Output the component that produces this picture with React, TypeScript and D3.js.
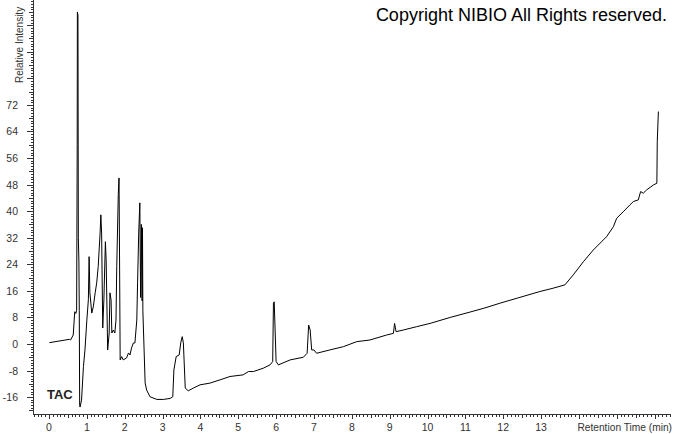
import React, { useMemo } from 'react';
import * as d3 from 'd3';

// chromatogram trace (time in min, relative intensity)
const times = [
  0.01, 0.54, 0.57, 0.64, 0.68, 0.71, 0.73, 0.745, 0.75, 0.765, 0.775, 0.79, 0.80, 0.81, 0.82,
  0.86, 0.91, 0.95, 1.00, 1.04, 1.06, 1.08, 1.13, 1.17, 1.22, 1.26, 1.30, 1.35, 1.37, 1.39,
  1.42, 1.45, 1.49, 1.51, 1.55, 1.59, 1.61, 1.64, 1.66, 1.70, 1.74, 1.77, 1.79, 1.83, 1.85,
  1.86, 1.88, 1.92, 1.96, 2.05, 2.10, 2.14, 2.18, 2.23, 2.27, 2.32, 2.34, 2.37, 2.40, 2.42,
  2.44, 2.46, 2.47, 2.48, 2.54, 2.58, 2.67, 2.85, 3.02, 3.20, 3.27, 3.30, 3.36, 3.44, 3.48,
  3.52, 3.55, 3.60, 3.68, 3.81, 3.99, 4.25, 4.52, 4.78, 5.13, 5.27, 5.40, 5.66, 5.84, 5.91,
  5.93, 5.95, 6.00, 6.06, 6.37, 6.72, 6.82, 6.86, 6.90, 6.94, 7.00, 7.07, 7.42, 7.78, 8.13,
  8.48, 8.92, 9.10, 9.13, 9.17, 9.36, 9.71, 10.07, 10.6, 11.12, 11.5, 11.92, 12.4, 12.97, 13.32,
  13.63, 13.85, 14.12, 14.38, 14.73, 14.91, 15.00, 15.17, 15.35, 15.44, 15.57, 15.63, 15.70, 15.79, 15.97,
  16.06, 16.07, 16.10,
];

const intensity = [
  0.4, 1.4, 1.2, 2.7, 9.7, 9.2, 10.2, 60, 100, 99, 32, 25, 10, -18.5, -19,
  -16.9, -6.8, -1.8, 7.2, 13.3, 26.3, 15.4, 9.3, 11.2, 15.4, 18.4, 23.3, 33.4, 38.9, 33.4,
  4.8, 13.3, 30.8, 25.3, -1.8, 3.3, 15.4, 13.3, 3.3, 4.2, 3.3, 7.2, 23.3, 45, 50,
  33.4, -4.8, -3.8, -4.8, -4.2, -2.7, -3.3, -1.2, 0.3, 0.3, 7.2, 18.4, 33.4, 42.5, 14,
  36, 13, 35, 10, -11.7, -13.9, -15.9, -16.7, -16.7, -16.4, -15.9, -7.8, -3.8, -3.3, 0.3,
  2.2, 0.3, -13.3, -14.1, -13.3, -12.3, -11.8, -10.8, -9.8, -9.3, -8.3, -8.3, -7.3, -6.3, -5.3,
  12.3, 12.7, -5.3, -6.3, -4.8, -4.0, -2.8, 5.7, 4.2, -1.8, -1.8, -2.8, -1.8, -0.8, 0.7,
  1.2, 2.7, 3.2, 6.2, 3.7, 4.2, 5.2, 6.2, 8.0, 9.6, 10.8, 12.3, 13.9, 15.8, 16.8,
  17.8, 20.8, 24.8, 28.3, 32.3, 35.3, 37.9, 39.8, 41.9, 42.9, 43.4, 45.9, 45.4, 46.4, 47.9,
  48.4, 60.9, 70.0,
];

const xTickLabels = [0, 1, 2, 3, 4, 5, 6, 7, 8, 9, 10, 11, 12, 13];
const yTickLabels = [-16, -8, 0, 8, 16, 24, 32, 40, 48, 56, 64, 72];

const W = 674;
const H = 434;
const axisX = 33;
const axisY = 414;
const font = 'Arial, "Liberation Sans", sans-serif';

export default function App() {
  const x = d3.scaleLinear().domain([0, 16]).range([49, 49 + 16 * 37.85]);
  const y = d3.scaleLinear().domain([-16, 72]).range([397.1, 104.9]);

  const points: [number, number][] = times.map((t, i) => [t, intensity[i]]);
  const path = d3.line<[number, number]>()
    .x(d => x(d[0]))
    .y(d => y(d[1]))(points);

  // minor ticks every 0.1 min / 0.8 units
  const xMinor = useMemo(() => d3.range(-4, 165).map(i => i / 10), []);
  const yMinor = useMemo(() => d3.range(-25, 130).map(i => i * 0.8), []);

  return (
    <div style={{ position: 'fixed', left: 0, top: 0 }}>
      <svg width={W} height={H} style={{ display: 'block', background: '#fff' }}>
        <text x={667} y={21} textAnchor="end" fontFamily={font} fontSize={18} fill="#000">
          Copyright NIBIO All Rights reserved.
        </text>

        {/* y axis */}
        <line x1={axisX + 0.5} x2={axisX + 0.5} y1={0} y2={axisY} stroke="#333" shapeRendering="crispEdges" />
        {yMinor.filter(v => y(v) >= 0 && y(v) <= axisY).map((v, i) => {
          const k = Math.round(v / 0.8);
          const len = k % 10 === 0 ? 6 : k % 5 === 0 ? 4 : 2.5;
          const py = Math.round(y(v)) + 0.5;
          return <line key={'ym' + i} x1={axisX - len} x2={axisX} y1={py} y2={py} stroke="#333" shapeRendering="crispEdges" />;
        })}
        {yTickLabels.map(v => (
          <text key={'yl' + v} x={18} y={y(v) + 4} textAnchor="end" fontFamily={font} fontSize={10.5} fill="#333">
            {v}
          </text>
        ))}
        <text transform="translate(23,83) rotate(-90)" fontFamily={font} fontSize={10} fill="#333">
          Relative Intensity
        </text>

        {/* x axis */}
        <line x1={axisX} x2={670} y1={axisY + 0.5} y2={axisY + 0.5} stroke="#333" shapeRendering="crispEdges" />
        {xMinor.filter(t => x(t) >= axisX && x(t) <= 670).map((t, i) => {
          const k = Math.round(t * 10);
          const len = k % 10 === 0 ? 5 : k % 5 === 0 ? 4 : 2.5;
          const px = Math.round(x(t)) + 0.5;
          return <line key={'xm' + i} x1={px} x2={px} y1={axisY} y2={axisY + len} stroke="#333" shapeRendering="crispEdges" />;
        })}
        {xTickLabels.map(t => (
          <text key={'xl' + t} x={x(t)} y={431} textAnchor="middle" fontFamily={font} fontSize={10.5} fill="#333">
            {t}
          </text>
        ))}
        <text x={672} y={431} textAnchor="end" fontFamily={font} fontSize={10.2} fill="#333">
          Retention Time (min)
        </text>

        <text x={47} y={399} fontFamily={font} fontSize={13} fontWeight="bold" fill="#222">
          TAC
        </text>

        <path d={path ?? ''} fill="none" stroke="#000" strokeWidth={1} />
      </svg>
    </div>
  );
}
